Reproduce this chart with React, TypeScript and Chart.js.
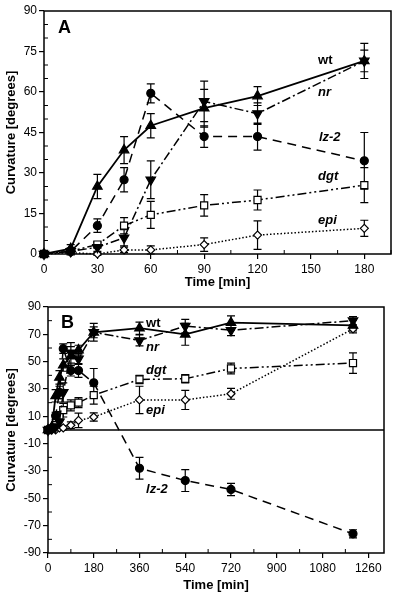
import React, { useEffect, useRef } from 'react';
import { Chart, registerables } from 'chart.js';

Chart.register(...registerables);

const FONT = "'Liberation Sans', Arial, Helvetica, sans-serif";

// ---- data: panel A (0-180 min) ----
const timesA = [0, 15, 30, 45, 60, 90, 120, 180];
const wtA = [0, 2, 25, 38.5, 47.5, 54, 58.5, 71.5];
const wtErrA = [0, 1.5, 4.5, 5, 4.5, 7, 3.5, 6.5];
const nrA = [0, 1, 2.5, 6, 27.5, 56.5, 52, 71.5];
const nrErrA = [0, 1, 1.5, 3, 7, 7.5, 4, 4];
const lzA = [0, 1, 10.5, 27.5, 59.5, 43.5, 43.5, 34.5];
const lzErrA = [0, 1, 2.5, 4.5, 3.5, 4, 5, 10.5];
const dgtA = [0, 1, 3.5, 10.5, 14.5, 18, 20, 25.5];
const dgtErrA = [0, 0.5, 1, 3, 5, 4, 3.7, 6.5];
const epiA = [0, 0.5, 0, 1.5, 1.5, 3.5, 7, 9.5];
const epiErrA = [0, 0.5, 0.5, 1, 1.5, 2.5, 5.3, 3];

// ---- data: panel B extra late points ----
const timesLate = [360, 540, 720, 1200];
const wtLate = [74.5, 70, 78.5, 76.5];
const wtErrLate = [4.5, 8, 5, 4];
const nrLate = [65.5, 76, 73, 80];
const nrErrLate = [4, 5, 4, 3];
const lzLate = [-28, -37, -43.5, -76];
const lzErrLate = [8, 8, 4.5, 3];
const dgtLate = [37, 37.5, 45, 49];
const dgtErrLate = [3, 3, 4, 7.5];
const epiLate = [22, 22, 26.5, 74];
const epiErrLate = [10, 7, 4, 3];

// ---- tick labels ----
const ticksAX = [0, 30, 60, 90, 120, 150, 180];
const ticksAY = [0, 15, 30, 45, 60, 75, 90];
const ticksBX = [0, 180, 360, 540, 720, 900, 1080, 1260];
const ticksBY = [-90, -70, -50, -30, -10, 10, 30, 50, 70, 90];

const seriesNames = ['wt', 'nr', 'lz-2', 'dgt', 'epi'];

const styles: any = {
  'wt': { dash: [], pointStyle: 'triangle', rot: 0, fill: '#000', r: 5.5, w: 1.8 },
  'nr': { dash: [9, 3, 2, 3], pointStyle: 'triangle', rot: 180, fill: '#000', r: 5.5, w: 1.5 },
  'lz-2': { dash: [9, 6], pointStyle: 'circle', rot: 0, fill: '#000', r: 4, w: 1.5 },
  'dgt': { dash: [9, 3, 2, 3, 2, 3], pointStyle: 'rect', rot: 0, fill: '#fff', r: 5, w: 1.5 },
  'epi': { dash: [1.5, 2], pointStyle: 'rectRot', rot: 0, fill: '#fff', r: 4, w: 1.5 },
};

function buildDatasets(times: number[], values: number[][], errors: number[][]) {
  return seriesNames.map((name, k) => {
    const s = styles[name];
    return {
      label: name,
      data: times.map((t, i) => ({ x: t, y: values[k][i] })),
      errors: errors[k],
      showLine: true,
      borderColor: '#000',
      borderWidth: s.w,
      borderDash: s.dash,
      pointStyle: s.pointStyle,
      pointRotation: s.rot,
      pointRadius: s.r,
      pointHoverRadius: s.r,
      pointBackgroundColor: s.fill,
      pointBorderColor: '#000',
      pointBorderWidth: 1.2,
      clip: false,
      tension: 0,
    };
  });
}

const framePlugin = {
  id: 'frame',
  beforeDatasetsDraw(chart: any, _a: any, opts: any) {
    const { ctx, chartArea } = chart;
    const xs = chart.scales.x, ys = chart.scales.y;
    ctx.save();
    ctx.strokeStyle = '#000';
    ctx.setLineDash([]);
    ctx.lineWidth = 1.5;
    ctx.strokeRect(chartArea.left, chartArea.top, chartArea.right - chartArea.left, chartArea.bottom - chartArea.top);
    if (opts.zeroLine) {
      const y0 = ys.getPixelForValue(0);
      ctx.beginPath();
      ctx.moveTo(chartArea.left, y0);
      ctx.lineTo(chartArea.right, y0);
      ctx.stroke();
    }
    // minor ticks pointing inward
    ctx.lineWidth = 1;
    ctx.beginPath();
    const majX = new Set(xs.ticks.map((t: any) => t.value));
    for (let v = xs.min; v <= xs.max + 1e-9; v += opts.minorX) {
      if (majX.has(v)) continue;
      const px = xs.getPixelForValue(v);
      ctx.moveTo(px, chartArea.bottom);
      ctx.lineTo(px, chartArea.bottom - 4);
    }
    const majY = new Set(ys.ticks.map((t: any) => t.value));
    for (let v = ys.min; v <= ys.max + 1e-9; v += opts.minorY) {
      if (majY.has(v)) continue;
      const py = ys.getPixelForValue(v);
      ctx.moveTo(chartArea.left, py);
      ctx.lineTo(chartArea.left + 4, py);
    }
    ctx.stroke();
    // error bars
    ctx.lineWidth = 1.2;
    ctx.beginPath();
    chart.data.datasets.forEach((ds: any) => {
      const errs = ds.errors;
      if (!errs) return;
      ds.data.forEach((p: any, i: number) => {
        const e = errs[i];
        if (!e) return;
        const px = xs.getPixelForValue(p.x);
        const y1 = ys.getPixelForValue(p.y + e);
        const y2 = ys.getPixelForValue(p.y - e);
        ctx.moveTo(px, y1); ctx.lineTo(px, y2);
        ctx.moveTo(px - 4, y1); ctx.lineTo(px + 4, y1);
        ctx.moveTo(px - 4, y2); ctx.lineTo(px + 4, y2);
      });
    });
    ctx.stroke();
    ctx.restore();
  },
};

const textPlugin = {
  id: 'textLabels',
  afterDraw(chart: any, _a: any, opts: any) {
    const ctx = chart.ctx;
    const xs = chart.scales.x, ys = chart.scales.y;
    ctx.save();
    ctx.fillStyle = '#000';
    ctx.textBaseline = 'middle';
    ctx.textAlign = 'left';
    (opts.items || []).forEach((it: any) => {
      ctx.font = `${it.italic ? 'italic ' : ''}bold ${it.size}px ${FONT}`;
      ctx.fillText(it.text, xs.getPixelForValue(it.x), ys.getPixelForValue(it.y));
    });
    ctx.restore();
  },
};

function makeOptions(p: any) {
  const tickFont = { size: 12, family: FONT };
  const titleFont = { size: 13, weight: 'bold' as const, family: FONT };
  const grid = { drawOnChartArea: false, drawTicks: true, tickLength: 5, color: '#000', lineWidth: 1.2 };
  const plain = (v: any) => String(v);
  return {
    responsive: false,
    animation: false,
    devicePixelRatio: 1,
    events: [],
    layout: { padding: p.padding },
    plugins: {
      legend: { display: false },
      tooltip: { enabled: false },
      frame: { zeroLine: p.zeroLine, minorX: p.minorX, minorY: p.minorY },
      textLabels: { items: p.labels },
    },
    scales: {
      x: {
        type: 'linear',
        min: p.xMin, max: p.xMax,
        afterBuildTicks: (s: any) => { s.ticks = p.xTicks.map((v: number) => ({ value: v })); },
        afterFit: (s: any) => { s.height = p.xHeight; },
        ticks: { font: tickFont, color: '#000', padding: 3, maxRotation: 0, autoSkip: false, callback: plain },
        grid,
        border: { display: false },
        title: { display: true, text: 'Time [min]', font: titleFont, color: '#000', padding: { top: 0, bottom: p.xTitlePad } },
      },
      y: {
        type: 'linear',
        min: p.yMin, max: p.yMax,
        afterBuildTicks: (s: any) => { s.ticks = p.yTicks.map((v: number) => ({ value: v })); },
        afterFit: (s: any) => { s.width = p.yWidth; },
        ticks: { font: tickFont, color: '#000', padding: 2, autoSkip: false, callback: plain },
        grid,
        border: { display: false },
        title: { display: true, text: 'Curvature [degrees]', font: titleFont, color: '#000', padding: { top: 4, bottom: 0 } },
      },
    },
  };
}

function ChartCanvas({ config, width, height, top }: any) {
  const ref = useRef<HTMLCanvasElement>(null);
  useEffect(() => {
    const chart = new Chart(ref.current as HTMLCanvasElement, config);
    return () => chart.destroy();
  }, []);
  return (
    <canvas ref={ref} width={width} height={height}
      style={{ position: 'absolute', left: 0, top, width, height, display: 'block' }} />
  );
}

export default function App() {
  const dataA = buildDatasets(timesA,
    [wtA, nrA, lzA, dgtA, epiA],
    [wtErrA, nrErrA, lzErrA, dgtErrA, epiErrA]);
  const timesB = [...timesA, ...timesLate];
  const dataB = buildDatasets(timesB,
    [[...wtA, ...wtLate], [...nrA, ...nrLate], [...lzA, ...lzLate], [...dgtA, ...dgtLate], [...epiA, ...epiLate]],
    [[...wtErrA, ...wtErrLate], [...nrErrA, ...nrErrLate], [...lzErrA, ...lzErrLate], [...dgtErrA, ...dgtErrLate], [...epiErrA, ...epiErrLate]]);

  const configA: any = {
    type: 'scatter',
    data: { datasets: dataA },
    options: makeOptions({
      padding: { left: 0, right: 9, top: 11, bottom: 0 },
      xMin: 0, xMax: 195, yMin: 0, yMax: 90,
      xTicks: ticksAX, yTicks: ticksAY,
      xHeight: 43, yWidth: 44, xTitlePad: 7,
      minorX: 15, minorY: 5, zeroLine: false,
      labels: [
        { text: 'A', x: 7.9, y: 83.8, size: 18 },
        { text: 'wt', x: 154, y: 71.7, size: 13 },
        { text: 'nr', x: 154, y: 59.8, size: 13, italic: true },
        { text: 'lz-2', x: 154.5, y: 43, size: 13, italic: true },
        { text: 'dgt', x: 154, y: 28.7, size: 13, italic: true },
        { text: 'epi', x: 154, y: 12.5, size: 13, italic: true },
      ],
    }),
    plugins: [framePlugin, textPlugin],
  };

  const configB: any = {
    type: 'scatter',
    data: { datasets: dataB },
    options: makeOptions({
      padding: { left: 0, right: 16, top: 10, bottom: 0 },
      xMin: 0, xMax: 1322, yMin: -90, yMax: 90,
      xTicks: ticksBX, yTicks: ticksBY,
      xHeight: 44, yWidth: 48, xTitlePad: 4,
      minorX: 90, minorY: 10, zeroLine: true,
      labels: [
        { text: 'B', x: 51, y: 78.4, size: 18 },
        { text: 'wt', x: 386, y: 78.3, size: 13 },
        { text: 'nr', x: 386, y: 60.3, size: 13, italic: true },
        { text: 'dgt', x: 386, y: 43.4, size: 13, italic: true },
        { text: 'epi', x: 386, y: 14.4, size: 13, italic: true },
        { text: 'lz-2', x: 386, y: -43.6, size: 13, italic: true },
      ],
    }),
    plugins: [framePlugin, textPlugin],
  };

  return (
    <div style={{ position: 'absolute', left: 0, top: 0, width: 400, height: 597, background: '#fff' }}>
      <ChartCanvas config={configA} width={400} height={297} top={0} />
      <ChartCanvas config={configB} width={400} height={300} top={297} />
    </div>
  );
}
